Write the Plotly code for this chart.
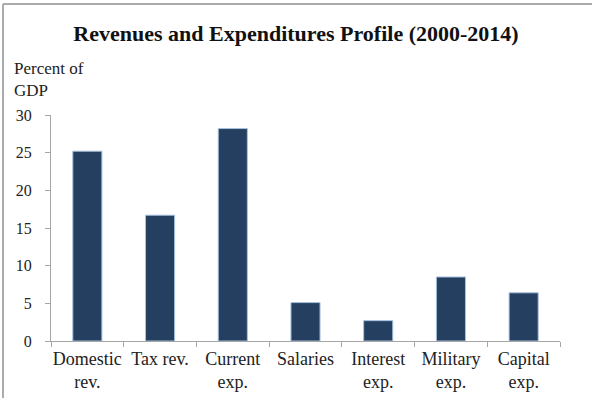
import plotly.graph_objects as go

# Average shares of GDP, 2000-2014
categories = ["Domestic<br>rev.", "Tax rev.", "Current<br>exp.", "Salaries",
              "Interest<br>exp.", "Military<br>exp.", "Capital<br>exp."]
values = [25.2, 16.7, 28.2, 5.1, 2.7, 8.5, 6.4]
y_ticks = [0, 5, 10, 15, 20, 25, 30]

W, H = 592, 398
L, R, T, B = 51, 32, 115, 57
pw, ph = W - L - R, H - T - B

def px_to_paper_x(px):
    return (px - L) / pw

def px_to_paper_y(py):
    return (H - B - py) / ph

FONT = "Liberation Serif"
AXIS_GREY = "#a6a6a6"

fig = go.Figure(
    go.Bar(
        x=categories,
        y=values,
        marker=dict(color="#243f60", line=dict(color="#a9c1de", width=1)),
    )
)

fig.update_layout(
    width=W,
    height=H,
    margin=dict(l=L, r=R, t=T, b=B, autoexpand=False),
    paper_bgcolor="white",
    plot_bgcolor="white",
    bargap=0.6,
    showlegend=False,
    font=dict(family=FONT, size=17, color="#222222"),
    title=dict(
        text="<b>Revenues and Expenditures Profile (2000-2014)</b>",
        x=0.5,
        xanchor="center",
        y=1 - 33 / H,
        yanchor="middle",
        font=dict(family=FONT, size=22, color="#111111"),
    ),
)

fig.update_xaxes(
    automargin=False,
    showgrid=False,
    showline=True,
    linecolor=AXIS_GREY,
    linewidth=1,
    ticks="outside",
    ticklen=5,
    tickcolor=AXIS_GREY,
    tickson="boundaries",
    ticklabelstandoff=1,
    tickfont=dict(family=FONT, size=18, color="#222222"),
    tickangle=0,
)

fig.update_yaxes(
    automargin=False,
    range=[0, 30],
    tickvals=y_ticks,
    showgrid=False,
    zeroline=False,
    showline=True,
    linecolor=AXIS_GREY,
    linewidth=1,
    ticks="outside",
    ticklen=5,
    tickcolor=AXIS_GREY,
    ticklabelstandoff=10,
    tickfont=dict(family=FONT, size=16, color="#222222"),
)

fig.add_annotation(
    text="Percent of<br>GDP",
    xref="paper",
    yref="paper",
    x=px_to_paper_x(12),
    y=px_to_paper_y(57),
    xanchor="left",
    yanchor="top",
    align="left",
    showarrow=False,
    font=dict(family=FONT, size=17, color="#222222"),
)

# Frame edges on the left and top
for x0, y0, x1, y1 in [(3, 4, 3, H), (3, 4, W, 4)]:
    fig.add_shape(
        type="line",
        xref="paper",
        yref="paper",
        x0=px_to_paper_x(x0),
        y0=px_to_paper_y(y0),
        x1=px_to_paper_x(x1),
        y1=px_to_paper_y(y1),
        line=dict(color="#ababab", width=2),
    )

fig.write_html("out.html")
